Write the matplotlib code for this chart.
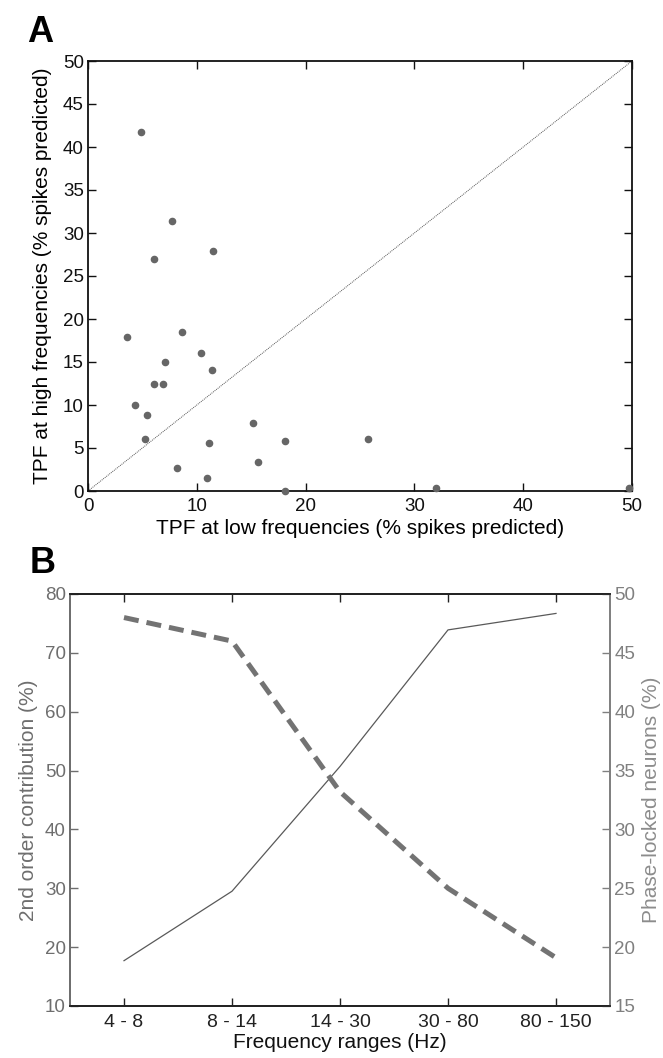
import matplotlib
matplotlib.use("Agg")
import matplotlib.pyplot as plt
import numpy as np

plt.rcParams["font.family"] = ["Liberation Sans", "DejaVu Sans"]

# panel A: TPF low vs high frequencies
tpf_low = [4.9, 7.7, 11.5, 6.1, 3.6, 8.6, 10.4, 7.1, 11.4, 6.1, 6.9, 4.3, 5.4, 5.2,
           15.2, 11.1, 18.1, 25.7, 15.6, 8.2, 10.9, 18.1, 32.0, 49.7]
tpf_high = [41.8, 31.4, 27.9, 27.0, 17.9, 18.5, 16.0, 15.0, 14.1, 12.4, 12.5, 10.0,
            8.8, 6.1, 7.9, 5.6, 5.8, 6.1, 3.4, 2.7, 1.5, 0.0, 0.3, 0.3]

# panel B: frequency ranges
freq_ranges = ["4 - 8", "8 - 14", "14 - 30", "30 - 80", "80 - 150"]
second_order = [17.7, 29.5, 50.7, 73.9, 76.7]
phase_locked = [48.0, 46.0, 33.2, 25.0, 19.1]

fig = plt.figure(figsize=(6.63, 10.58), dpi=100)

# ---- A ----
ax = fig.add_axes([88 / 663, 1 - 491 / 1058, 544 / 663, 430 / 1058])
ax.plot([0, 50], [0, 50], linestyle=(0, (1, 1)), color="#555555", lw=0.7)
ax.scatter(tpf_low, tpf_high, s=20, color="#666666", zorder=3, clip_on=False)
ax.set_xlim(0, 50)
ax.set_ylim(0, 50)
ax.set_xticks(np.arange(0, 51, 10))
ax.set_yticks(np.arange(0, 51, 5))
ax.tick_params(direction="in", top=True, right=True, length=6, width=1,
               labelsize=13.5, colors="#111111")
ax.tick_params(axis="x", pad=5)
ax.tick_params(axis="y", pad=3)
for s in ax.spines.values():
    s.set_linewidth(1.3)
    s.set_color("#111111")
ax.set_xlabel("TPF at low frequencies (% spikes predicted)", fontsize=15, labelpad=3)
ax.set_ylabel("TPF at high frequencies (% spikes predicted)", fontsize=15, labelpad=8)
fig.text(27 / 663, 1 - 42 / 1058, "A", fontsize=26, fontweight="bold", va="baseline")

# ---- B ----
x = np.arange(1, len(freq_ranges) + 1)
bx = fig.add_axes([70 / 663, 1 - 1006 / 1058, 540 / 663, 412 / 1058])
bx.plot(x, second_order, color="#595959", lw=0.9)
bx.set_xlim(0.5, 5.5)
bx.set_ylim(10, 80)
bx.set_yticks(np.arange(10, 81, 10))
bx.set_xticks(x)
bx.set_xticklabels(freq_ranges)
bx.tick_params(axis="x", direction="in", top=True, length=6, width=1,
               labelsize=14, colors="#222222", pad=6)
bx.tick_params(axis="y", direction="in", length=6, width=1,
               labelsize=13.5, colors="#6e6e6e", pad=3)
bx.set_xlabel("Frequency ranges (Hz)", fontsize=15, color="#111111", labelpad=1)
bx.set_ylabel("2nd order contribution (%)", fontsize=15, color="#6e6e6e", labelpad=5)

rx = bx.twinx()
rx.plot(x, phase_locked, color="#737373", lw=3.6, linestyle=(0, (3, 1.6)))
rx.set_ylim(15, 50)
rx.set_yticks(np.arange(15, 51, 5))
rx.tick_params(axis="y", direction="in", length=6, width=1,
               labelsize=13.5, colors="#808080", pad=3)
rx.set_ylabel("Phase-locked neurons (%)", fontsize=15, color="#8c8c8c", labelpad=5)

for a in (bx, rx):
    a.spines["top"].set_color("#222222")
    a.spines["bottom"].set_color("#222222")
    a.spines["left"].set_color("#6e6e6e")
    a.spines["right"].set_color("#808080")
    for s in a.spines.values():
        s.set_linewidth(1.3)
fig.text(30 / 663, 1 - 573 / 1058, "B", fontsize=26, fontweight="bold", va="baseline")

fig.savefig("out.png", dpi=100)
